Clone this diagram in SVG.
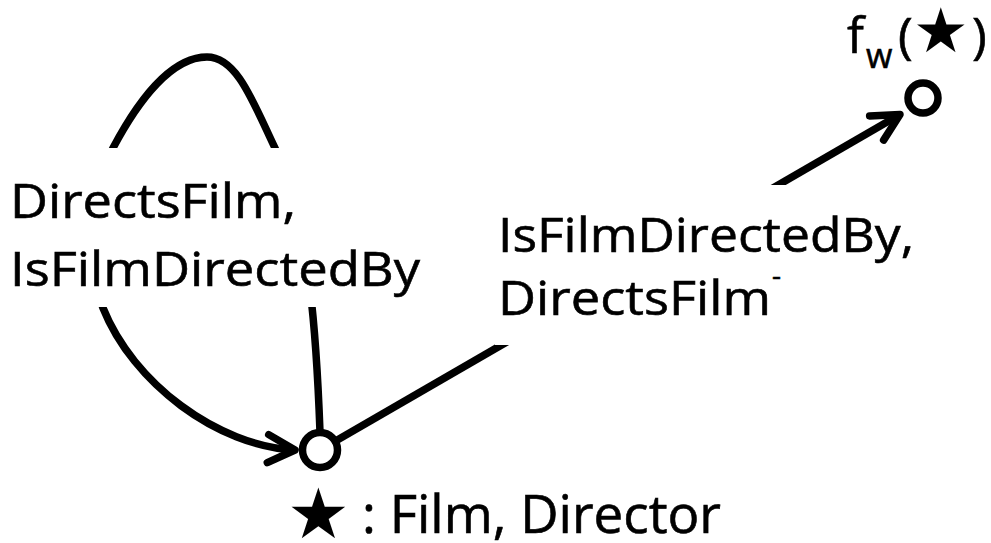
<svg xmlns="http://www.w3.org/2000/svg" width="991" height="543" viewBox="0 0 991 543">
<style>
.lbl { font-family: "Open Sans", "Noto Sans", sans-serif; fill: #000; stroke: #000; stroke-width: 0.6; }
.star { font-family: "DejaVu Sans", sans-serif; stroke-width: 0; }
.edge { fill: none; stroke: #000; stroke-width: 7.5; }
.node { fill: #fff; stroke: #000; stroke-width: 7.5; }
.bg { fill: #fff; }
</style>
<defs>
<marker id="arr" markerUnits="userSpaceOnUse" viewBox="-36 -20 42 40" markerWidth="42" markerHeight="40" refX="0" refY="0" orient="auto" overflow="visible">
<path d="M -27 -14 L 0 0 L -27 14" fill="none" stroke="#000" stroke-width="7.5" stroke-linecap="round" stroke-linejoin="round"/>
</marker>
</defs>
<rect width="991" height="543" fill="#fff"/>
<g id="connectors">
<g id="edge-loop">
<path class="edge" marker-end="url(#arr)" d="M 320 432 C 317 350, 311 224, 275 148 C 253 102, 237 57, 207 57 C 172 57, 139 99, 113 148 C 95 182, 83 258, 103 308 C 133 383, 217 446, 295 450"/>
<rect class="bg" x="0" y="148" width="432" height="159"/>
<text class="lbl" font-size="48"><tspan x="10" y="218" textLength="286" lengthAdjust="spacingAndGlyphs">DirectsFilm,</tspan><tspan x="10" y="286" textLength="410" lengthAdjust="spacingAndGlyphs">IsFilmDirectedBy</tspan></text>
</g>
<g id="edge-fw">
<path class="edge" marker-end="url(#arr)" d="M 320 450 L 900 114.5"/>
<rect class="bg" x="495" y="185" width="425" height="160"/>
<text class="lbl" font-size="48"><tspan x="498" y="252" textLength="416" lengthAdjust="spacingAndGlyphs">IsFilmDirectedBy,</tspan><tspan x="498" y="315" textLength="273" lengthAdjust="spacingAndGlyphs">DirectsFilm</tspan><tspan x="772" y="285" font-size="28">-</tspan></text>
</g>
</g>
<g id="node-star">
<circle class="node" cx="320" cy="450" r="17.5"/>
<text class="lbl" font-size="53"><tspan class="star" x="287" y="538" font-size="70">★</tspan><tspan x="362" y="533" textLength="359" lengthAdjust="spacingAndGlyphs">: Film, Director</tspan></text>
</g>
<g id="node-fw">
<circle class="node" cx="923" cy="98" r="15"/>
<text class="lbl" font-size="50"><tspan x="847" y="53">f</tspan><tspan x="866" y="68" font-size="34">w</tspan><tspan x="898" y="53">(</tspan><tspan class="star" x="913" y="52" font-size="62">★</tspan><tspan x="972" y="53">)</tspan></text>
</g>
</svg>
